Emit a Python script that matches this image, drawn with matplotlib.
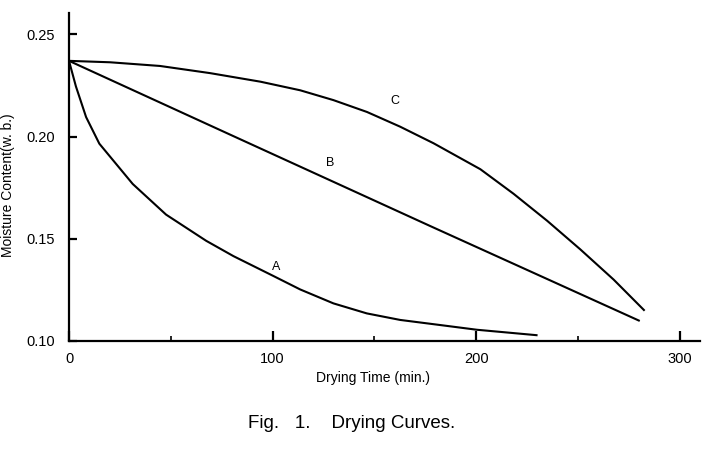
import matplotlib
matplotlib.use("Agg")
import matplotlib.pyplot as plt

plt.rcParams['font.family'] = ['Liberation Sans', 'DejaVu Sans']

# curve A: fast drying
a_time = [0, 3.4, 8.4, 14.9, 31.3, 47.7, 67.4, 80.8, 100.4, 113.6, 129.9, 146.3, 162.7, 182.4, 200.4, 230.2]
a_moist = [0.237, 0.2245, 0.2095, 0.1965, 0.1768, 0.1618, 0.1490, 0.1415, 0.1318, 0.1252, 0.1184, 0.1135, 0.1103, 0.1078, 0.1055, 0.1028]

# curve B: straight line
b_time = [0, 79.2, 177.5, 280.4]
b_moist = [0.237, 0.2009, 0.1562, 0.1098]

# curve C: slow start
c_time = [0, 20.2, 44.7, 69.3, 94.1, 113.6, 129.9, 146.4, 162.7, 179.1, 202.1, 218.4, 234.9, 251.2, 267.6, 282.8]
c_moist = [0.237, 0.2363, 0.2345, 0.2310, 0.2268, 0.2226, 0.2178, 0.2120, 0.2048, 0.1967, 0.1840, 0.1720, 0.1588, 0.1448, 0.1300, 0.1148]

labels = ['A', 'B', 'C']
label_pos = [(101.8, 0.1362), (128.3, 0.1870), (160.3, 0.2174)]

x_major = [0, 100, 200, 300]
x_minor = [50, 150, 250]
y_ticks = [0.10, 0.15, 0.20, 0.25]

fig = plt.figure(figsize=(7.02, 4.74), dpi=100)
ax = fig.add_axes([69 / 702, 1 - 341 / 474, 631 / 702, 328 / 474])

for t, m in [(a_time, a_moist), (b_time, b_moist), (c_time, c_moist)]:
    ax.plot(t, m, color='black', lw=1.5, solid_capstyle='butt', solid_joinstyle='round')

for lab, (x, y) in zip(labels, label_pos):
    ax.text(x, y, lab, fontsize=9, ha='center', va='center')

ax.set_xlim(0, 310)
ax.set_ylim(0.10, 0.2604)
ax.spines['top'].set_visible(False)
ax.spines['right'].set_visible(False)
ax.spines['left'].set_linewidth(1.6)
ax.spines['bottom'].set_linewidth(1.6)

ax.set_xticks(x_major)
ax.set_xticks(x_minor, minor=True)
ax.set_xticklabels([str(v) for v in x_major])
ax.set_yticks(y_ticks)
ax.set_yticklabels(['%.2f' % v for v in y_ticks])
ax.tick_params(axis='x', which='major', direction='in', length=7, width=1.6, labelsize=10.5, pad=8)
ax.tick_params(axis='x', which='minor', direction='in', length=3.5, width=1.2)
ax.tick_params(axis='y', direction='in', length=6, width=1.6, labelsize=10.5, pad=10)

fig.text(373 / 702, 1 - 378 / 474, 'Drying Time (min.)', fontsize=10, ha='center', va='center')
fig.text(8 / 702, 1 - 185 / 474, 'Moisture Content(w. b.)', fontsize=10,
         rotation=90, ha='center', va='center')
fig.text(352 / 702, 1 - 424 / 474, 'Fig.   1.    Drying Curves.', fontsize=13.5,
         ha='center', va='center')

fig.savefig('out.png', dpi=100)
